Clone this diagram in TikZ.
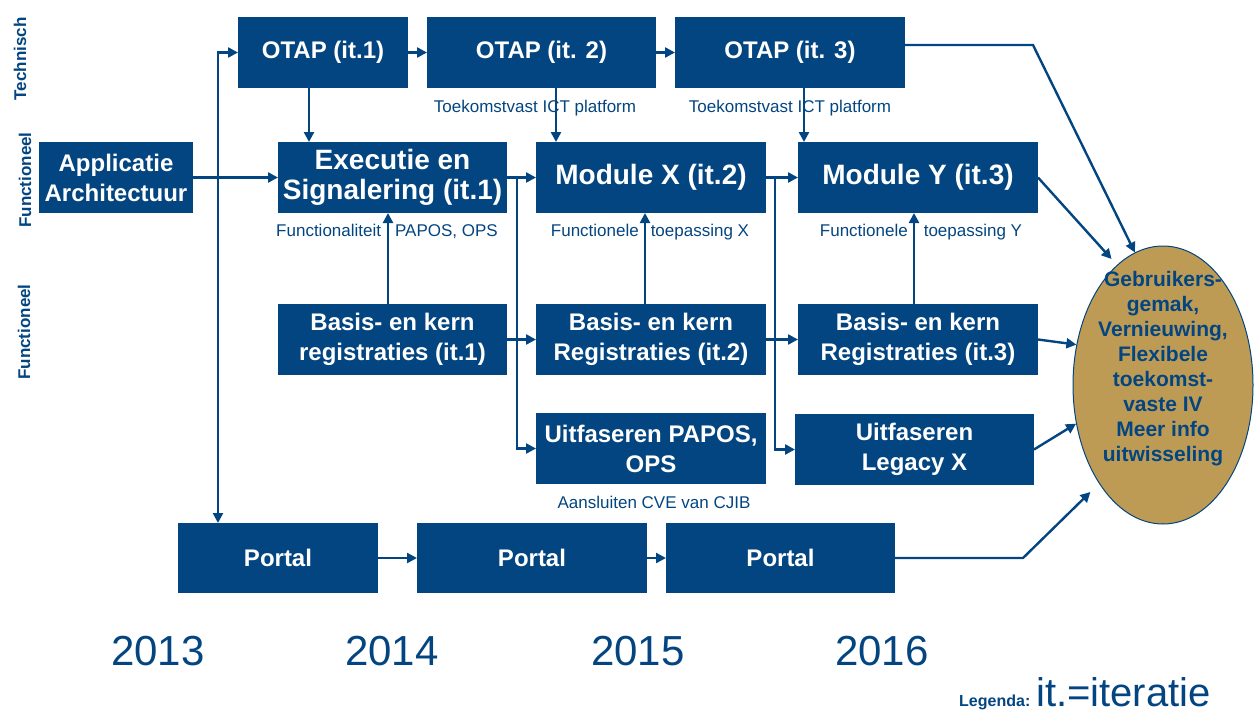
\documentclass[tikz,border=0pt]{standalone}
\usepackage{fontspec}
\setmainfont{Liberation Sans}
\usepackage{tikz}
\usetikzlibrary{arrows.meta,shapes.geometric,positioning}

\definecolor{blauw}{RGB}{3,69,128}
\definecolor{goud}{RGB}{190,155,85}

\begin{document}
\begin{tikzpicture}[->,>={Triangle[length=10pt,width=10pt]},line width=2.4pt,
                    color=blauw,x=1pt,y=-1pt]
  \tikzstyle{box}=[rectangle,fill=blauw,text=white,inner sep=0pt,outer sep=0pt,
                   minimum height=71pt,align=center,
                   font=\bfseries\fontsize{24}{30}\selectfont]
  \tikzstyle{big}=[font=\bfseries\fontsize{28}{30}\selectfont]
  \tikzstyle{note}=[anchor=base,font=\fontsize{17}{20}\selectfont]
  \tikzstyle{year}=[anchor=base,font=\fontsize{42}{48}\selectfont]
  \tikzstyle{side}=[rotate=90,font=\bfseries\fontsize{17}{20}\selectfont]
  \tikzstyle{goal}=[ellipse,draw=blauw,line width=1pt,fill=goud,
                    minimum width=180pt,minimum height=278pt]

  \useasboundingbox (0,0) rectangle (1254,713);

  \node[box,minimum width=170pt] (O1) at (323,52.5) {OTAP (it.1)};
  \node[box,minimum width=229pt] (O2) [right=19pt of O1] {OTAP (it. 2)};
  \node[box,minimum width=230pt] (O3) [right=19pt of O2] {OTAP (it. 3)};

  \node[box,minimum width=154pt] (AA) at (116,177.5) {Applicatie\\Architectuur};
  \node[box,big,minimum width=229pt] (ES) at (392.5,177.5) {Executie en\\Signalering (it.1)};
  \node[box,big,minimum width=230pt] (MX) [right=29pt of ES] {Module X (it.2)};
  \node[box,big,minimum width=240pt] (MY) [right=32pt of MX] {Module Y (it.3)};

  \node[box,minimum width=229pt] (B1) [below=91pt of ES] {Basis- en kern\\registraties (it.1)};
  \node[box,minimum width=230pt] (B2) [below=91pt of MX] {Basis- en kern\\Registraties (it.2)};
  \node[box,minimum width=240pt] (B3) [below=91pt of MY] {Basis- en kern\\Registraties (it.3)};

  \node[box,minimum width=230pt] (UP) [below=38pt of B2] {Uitfaseren PAPOS,\\OPS};
  \node[box,minimum width=239pt] (UL) at (914.5,449.5) {Uitfaseren\\Legacy X};

  \node[box,minimum width=200pt,minimum height=70pt] (P1) at (278,558) {Portal};
  \node[box,minimum width=230pt,minimum height=70pt] (P2) [right=39pt of P1] {Portal};
  \node[box,minimum width=229pt,minimum height=70pt] (P3) [right=19pt of P2] {Portal};

  \node[goal,label={[font=\bfseries\fontsize{21}{25}\selectfont,align=center,yshift=16pt]
        center:{Gebruikers-\\gemak,\\Vernieuwing,\\Flexibele\\toekomst-\\vaste IV\\Meer info\\uitwisseling}}]
        (G) at (1163,385) {};

  \node[note] (n1) at (535,112) {Toekomstvast ICT platform};
  \node[note] (n2) at (790,112) {Toekomstvast ICT platform};
  \node[note] (n3) at (387,236) {Functionaliteit\hspace{14pt}PAPOS, OPS};
  \node[note] (n4) at (650,236) {Functionele\hspace{12pt}toepassing X};
  \node[note] (n5) at (921,236) {Functionele\hspace{16pt}toepassing Y};
  \node[note] (n6) at (654,508) {Aansluiten CVE van CJIB};

  \node[side] (s1) at (20,59) {Technisch};
  \node[side] (s2) at (25,180) {Functioneel};
  \node[side] (s3) at (24,332) {Functioneel};

  \node[year] (y1) at (158,665) {2013};
  \node[year] (y2) at (392,665) {2014};
  \node[year] (y3) at (638,665) {2015};
  \node[year] (y4) at (882,665) {2016};

  \node[anchor=base west,inner sep=0pt] (leg) at (958,706)
        {{\bfseries\fontsize{16}{18}\selectfont Legenda: }\fontsize{40}{44}\selectfont it.=iteratie};

  \path (O1) edge (O2)
        (O2) edge (O3)
        (AA) edge (ES)
        (ES) edge (MX)
        (MX) edge (MY)
        (B1) edge (B2)
        (B2) edge (B3)
        (P1) edge (P2)
        (P2) edge (P3);

  % trunk and branches
  \coordinate (t0) at (218,52.5);
  \draw[<->] (t0 |- P1.north) -- (t0) -- (O1.west);
  \coordinate (j1) at ([xshift=10pt]ES.east);
  \coordinate (j2) at ([xshift=9pt]MX.east);
  \draw (j1) |- (UP.west);
  \draw (j2) |- (UL.west);

  % down from OTAP, up from Basis
  \coordinate (d1) at ([xshift=-14pt]O1.south);
  \coordinate (d2) at ([xshift=14.5pt]O2.south);
  \coordinate (d3) at ([xshift=14pt]O3.south);
  \draw (d1) -- (d1 |- ES.north);
  \draw (d2) -- (d2 |- MX.north);
  \draw (d3) -- (d3 |- MY.north);
  \coordinate (u1) at ([xshift=-4.5pt]B1.north);
  \coordinate (u2) at ([xshift=-6pt]B2.north);
  \coordinate (u3) at ([xshift=-4pt]B3.north);
  \draw (u1) -- (u1 |- ES.south);
  \draw (u2) -- (u2 |- MX.south);
  \draw (u3) -- (u3 |- MY.south);

  % into the goal
  \draw ([yshift=7.5pt]O3.east) -- ++(128,0) -- (G.102);
  \draw[shorten >=8pt] (MY.east) -- (G.111);
  \draw (B3.east) -- (G.155);
  \draw (UL.east) -- (G.204);
  \draw[shorten >=12pt] (P3.east) -- ++(128,0) -- (G.237);
\end{tikzpicture}
\end{document}
